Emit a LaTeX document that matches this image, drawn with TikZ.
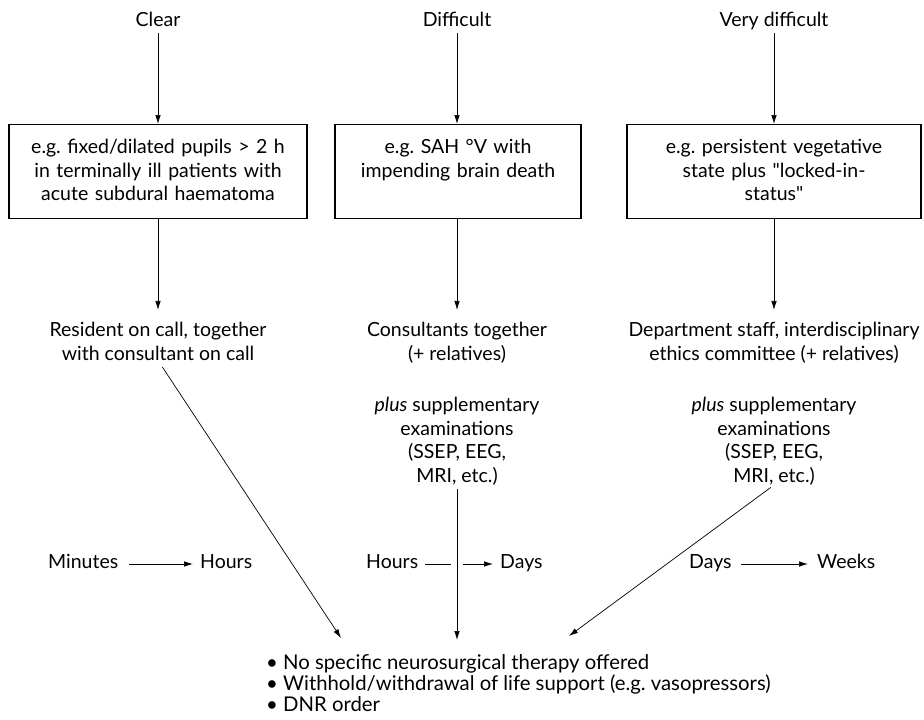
\documentclass[tikz,border=0pt]{standalone}
\usepackage{fontspec}
\setmainfont{Lato}[Ligatures=TeXOff]
\usetikzlibrary{arrows.meta}
\begin{document}
\frenchspacing
\begin{tikzpicture}[x=1pt,y=-1pt,
  font=\fontsize{19.5}{23.5}\selectfont,
  lbl/.style={inner sep=0pt, text height=13pt, text depth=0pt, anchor=base},
  boxnode/.style={draw, line width=1.1pt, inner sep=0pt, text height=29pt, text depth=65pt, align=center, anchor=north},
  multi/.style={align=center, inner sep=0pt, anchor=base},
  tl/.style={inner sep=0pt, text height=8pt, text depth=0pt, anchor=base west},
  ln/.style={line width=0.7pt},
  arr/.style={line width=0.7pt, -{Latex[length=9pt,width=5.5pt]}}]
\useasboundingbox (0,0) rectangle (924,720);
% top labels
\node[lbl] (clear) at (158,27) {Clear};
\node[lbl] (diff) at (457,27) {Difficult};
\node[lbl] (vdiff) at (774,27) {Very difficult};
% boxes
\node[boxnode, text width=298pt] (box1) at (158,124) {e.g. fixed/dilated pupils > 2 h\\in terminally ill patients with\\acute subdural haematoma};
\node[boxnode, text width=246pt] (box2) at (458,124) {e.g. SAH °V with\\impending brain death};
\node[boxnode, text width=294pt] (box3) at (774,124) {e.g. persistent vegetative\\state plus "locked-in-\\status"};
% level 2 (anchor base = last line)
\node[multi] (res) at (158,360) {Resident on call, together\\with consultant on call};
\node[multi] (cons) at (457,360) {Consultants together\\(+ relatives)};
\node[multi] (dept) at (774,360) {Department staff, interdisciplinary\\ethics committee (+ relatives)};
% level 3
\node[multi] (ex2) at (457,482) {\textit{plus} supplementary\\examinations\\(SSEP, EEG,\\MRI, etc.)};
\node[multi] (ex3) at (774,482) {\textit{plus} supplementary\\examinations\\(SSEP, EEG,\\MRI, etc.)};
% timelines
\node[tl] (m1) at (48,568) {Minutes};
\node[tl] (h1) at (200,568) {Hours};
\node[tl] (h2) at (366,568) {Hours};
\node[tl] (d2) at (500,568) {Days};
\node[tl] (d3) at (689,568) {Days};
\node[tl] (w3) at (817,568) {Weeks};
% bottom list
\node[inner sep=0pt, anchor=base west, align=left, font=\fontsize{20.3}{21}\selectfont] (bul) at (266,711)
  {• No specific neurosurgical therapy offered\\• Withhold/withdrawal of life support (e.g. vasopressors)\\• DNR order};
\coordinate (t1) at (341,638);
\coordinate (t2) at (457,640);
\coordinate (t3) at (569,636);
% arrows
\draw[arr, shorten <=6pt] (clear.south) -- (clear.south |- box1.north);
\draw[arr, shorten <=6pt] (diff.south) -- (diff.south |- box2.north);
\draw[arr, shorten <=6pt] (vdiff.south) -- (vdiff.south |- box3.north);
\draw[arr, shorten >=12pt] (box1.south -| res.north) -- (res.north);
\draw[arr, shorten >=12pt] (box2.south -| cons.north) -- (cons.north);
\draw[arr, shorten >=12pt] (box3.south -| dept.north) -- (dept.north);
\draw[arr, shorten <=8pt] (res.south) -- (t1);
\draw[arr, shorten <=4pt] (ex2.south) -- (t2);
\draw[arr, shorten <=4pt] (ex3.south) -- (t3);
\draw[arr] ([xshift=11pt]m1.east) -- ([xshift=-7pt]h1.west);
\draw[ln] ([xshift=7pt]h2.east) -- ([xshift=-6pt]h2.east -| ex2.south);
\draw[arr] ([xshift=6pt]h2.east -| ex2.south) -- ([xshift=-7pt]d2.west);
\draw[arr] ([xshift=9pt]d3.east) -- ([xshift=-9pt]w3.west);
\end{tikzpicture}
\end{document}
